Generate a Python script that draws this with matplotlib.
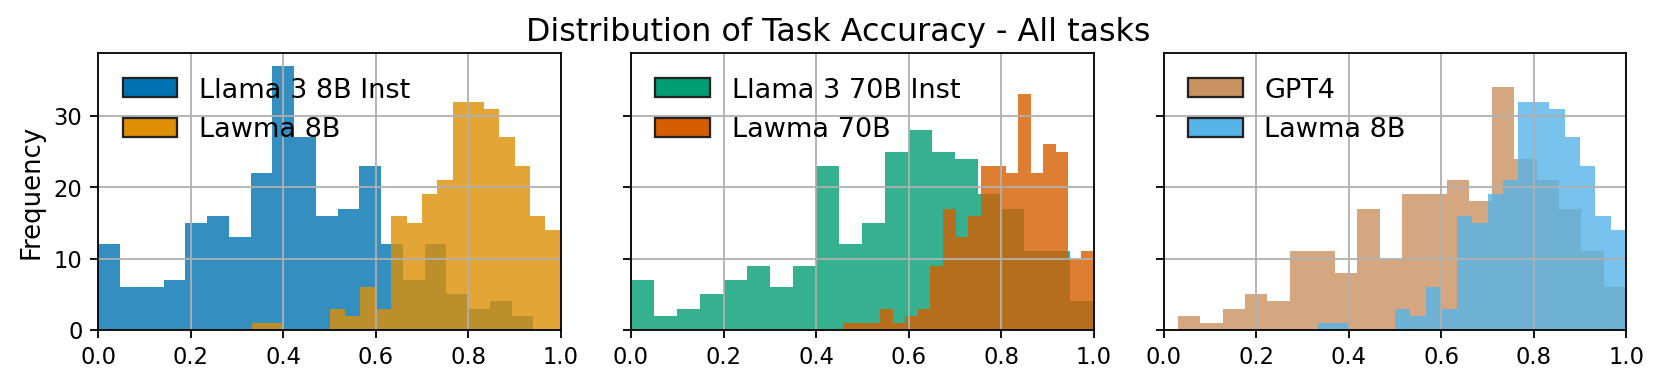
import numpy as np
import matplotlib.pyplot as plt
from matplotlib.patches import Patch

# seaborn "colorblind" palette colours
c_llama8 = "#0173b2"
c_lawma8 = "#de8f05"
c_llama70 = "#029e73"
c_lawma70 = "#d55e00"
c_gpt4 = "#ca9161"
c_lawma8_b = "#56b4e9"

# histogram counts (20 bins each); bin range per series
llama8_range = (0.0, 0.9407)
llama8_counts = [12, 6, 6, 7, 15, 16, 13, 22, 37, 27, 16, 17, 23, 12, 7, 12, 5, 3, 4, 2]

lawma8_range = (0.3333, 1.0)
lawma8_counts = [1, 1, 0, 0, 0, 3, 2, 6, 3, 16, 15, 19, 21, 32, 32, 31, 27, 23, 16, 14]

llama70_range = (0.0, 1.0)
llama70_counts = [7, 2, 3, 5, 7, 9, 6, 9, 23, 12, 15, 25, 28, 25, 24, 19, 17, 11, 11, 4]

lawma70_range = (0.4576, 1.0)
lawma70_counts = [1, 1, 1, 3, 1, 2, 3, 9, 17, 13, 16, 23, 23, 22, 33, 22, 26, 25, 10, 11]

gpt4_range = (0.0303, 1.0)
gpt4_counts = [2, 1, 3, 5, 4, 11, 11, 8, 17, 10, 19, 19, 21, 18, 34, 24, 21, 17, 11, 6]

panels = [
    [("Llama 3 8B Inst", llama8_range, llama8_counts, c_llama8),
     ("Lawma 8B", lawma8_range, lawma8_counts, c_lawma8)],
    [("Llama 3 70B Inst", llama70_range, llama70_counts, c_llama70),
     ("Lawma 70B", lawma70_range, lawma70_counts, c_lawma70)],
    [("GPT4", gpt4_range, gpt4_counts, c_gpt4),
     ("Lawma 8B", lawma8_range, lawma8_counts, c_lawma8_b)],
]

dpi = 163
fig, axes = plt.subplots(1, 3, figsize=(1662.4 / dpi, 388.4 / dpi), dpi=dpi, sharey=True)
fig.subplots_adjust(left=0.0591, right=0.9783, bottom=0.1495, top=0.8634, wspace=0.1516)

for ax, series in zip(axes, panels):
    handles = []
    for name, (lo, hi), counts, color in series:
        counts = np.array(counts, dtype=float)
        edges = np.linspace(lo, hi, len(counts) + 1)
        ax.hist(edges[:-1], bins=edges, weights=counts, color=color, alpha=0.8)
        handles.append(Patch(facecolor=color, edgecolor="#222222", label=name))
    ax.set_xlim(0, 1)
    ax.grid(True)
    ax.tick_params(labelsize=10)
    ax.legend(handles=handles, loc="upper left", frameon=False, fontsize=12)

axes[0].set_ylabel("Frequency", fontsize=11.5)
fig.suptitle("Distribution of Task Accuracy - All tasks", fontsize=14, x=0.504, y=0.955)

fig.savefig("out.png", dpi=dpi)
